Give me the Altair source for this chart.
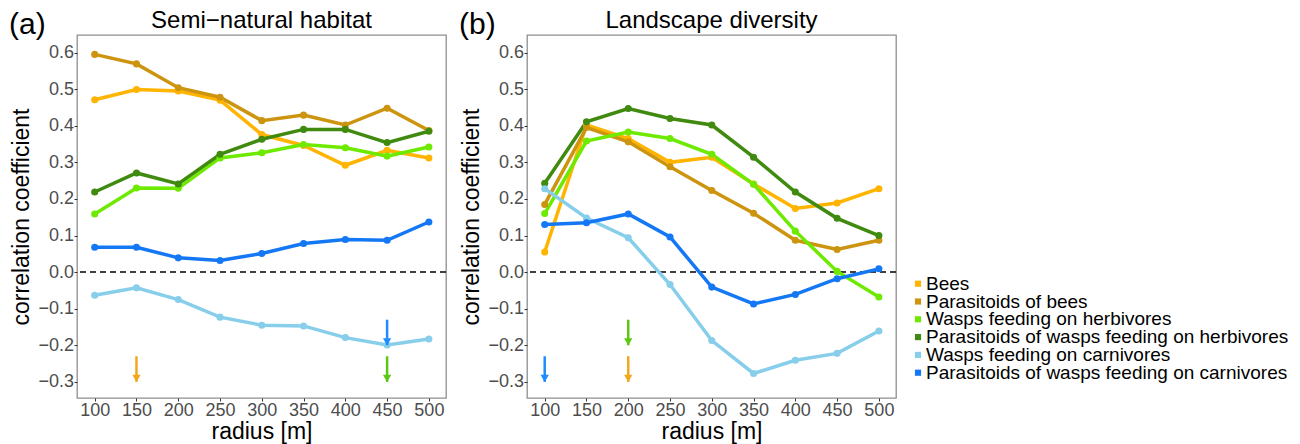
import altair as alt
import pandas as pd

FONT = "Liberation Sans"

radius = [100, 150, 200, 250, 300, 350, 400, 450, 500]

groups = [
    "Bees",
    "Parasitoids of bees",
    "Wasps feeding on herbivores",
    "Parasitoids of wasps feeding on herbivores",
    "Wasps feeding on carnivores",
    "Parasitoids of wasps feeding on carnivores",
]
colors = ["#FFB400", "#CC940F", "#6EEA00", "#3F8A0F", "#87CEEB", "#1478F5"]

# (a) Semi-natural habitat
semi_bees = [0.471, 0.499, 0.495, 0.470, 0.376, 0.346, 0.292, 0.333, 0.312]
semi_par_bees = [0.595, 0.569, 0.504, 0.478, 0.414, 0.429, 0.402, 0.448, 0.387]
semi_wasp_herb = [0.159, 0.230, 0.229, 0.312, 0.326, 0.349, 0.340, 0.317, 0.342]
semi_par_herb = [0.219, 0.271, 0.241, 0.322, 0.363, 0.390, 0.390, 0.354, 0.385]
semi_wasp_carn = [-0.063, -0.043, -0.075, -0.123, -0.145, -0.147, -0.179, -0.199, -0.183]
semi_par_carn = [0.068, 0.068, 0.039, 0.032, 0.051, 0.078, 0.089, 0.087, 0.137]

# (b) Landscape diversity
div_bees = [0.055, 0.402, 0.365, 0.300, 0.314, 0.241, 0.174, 0.189, 0.228]
div_par_bees = [0.185, 0.395, 0.356, 0.288, 0.223, 0.161, 0.087, 0.062, 0.087]
div_wasp_herb = [0.160, 0.358, 0.383, 0.365, 0.322, 0.240, 0.112, 0.002, -0.068]
div_par_herb = [0.243, 0.411, 0.447, 0.420, 0.402, 0.314, 0.219, 0.147, 0.100]
div_wasp_carn = [0.228, 0.148, 0.094, -0.034, -0.187, -0.277, -0.241, -0.222, -0.161]
div_par_carn = [0.130, 0.135, 0.159, 0.096, -0.041, -0.087, -0.061, -0.018, 0.009]

# arrows marking best radius: panel, radius, start, tip, colour
arrow_panel = ["a", "a", "a", "b", "b", "b"]
arrow_radius = [150, 450, 450, 100, 200, 200]
arrow_start = [-0.23, -0.13, -0.23, -0.23, -0.13, -0.23]
arrow_tip = [-0.30, -0.20, -0.30, -0.30, -0.20, -0.30]
arrow_color = ["#F2A81D", "#1E8CFF", "#5DC814", "#1E8CFF", "#5DC814", "#F2A81D"]

y_ticks = [-0.3, -0.2, -0.1, 0.0, 0.1, 0.2, 0.3, 0.4, 0.5, 0.6]


def long_df(series):
    rows = []
    for g, vals in zip(groups, series):
        for r, v in zip(radius, vals):
            rows.append({"radius": r, "r": v, "group": g})
    return pd.DataFrame(rows)


df_a = long_df([semi_bees, semi_par_bees, semi_wasp_herb, semi_par_herb, semi_wasp_carn, semi_par_carn])
df_b = long_df([div_bees, div_par_bees, div_wasp_herb, div_par_herb, div_wasp_carn, div_par_carn])
df_arrows = pd.DataFrame({
    "panel": arrow_panel, "radius": arrow_radius,
    "start": arrow_start, "tip": arrow_tip, "col": arrow_color,
})

W, H = 369, 363
SPACING = 81

xscale = alt.Scale(domain=[78.8, 520.5], nice=False, zero=False)
yscale = alt.Scale(domain=[-0.344, 0.648], nice=False, zero=False)
cscale = alt.Scale(domain=groups, range=colors)

ARROW = "M-1,-1.7L1,-1.7L0,0Z"


def panel(df, title, tag, panel_id):
    x = alt.X("radius:Q", scale=xscale, title="radius [m]",
              axis=alt.Axis(values=radius, format="d"))
    y = alt.Y("r:Q", scale=yscale, title="correlation coefficient",
              axis=alt.Axis(values=y_ticks, format=".1f"))
    base = alt.Chart(df)
    zero = alt.Chart(pd.DataFrame({"z": [0.0]})).mark_rule(
        color="black", strokeWidth=1.5, strokeDash=[6, 4]
    ).encode(y=alt.Y("z:Q", scale=yscale))
    lines = base.mark_line(strokeWidth=3.5).encode(
        x=x, y=y,
        color=alt.Color("group:N", scale=cscale, sort=groups, legend=None),
        detail="group:N",
    )
    pts = base.mark_circle(size=50, opacity=1).encode(
        x=x, y=y,
        color=alt.Color("group:N", scale=cscale, sort=groups, legend=None),
    )
    layers = [zero, lines, pts]
    sub = df_arrows[df_arrows.panel == panel_id]
    for _, row in sub.iterrows():
        one = alt.Chart(pd.DataFrame([row]))
        layers.append(one.mark_rule(strokeWidth=2.5, color=row["col"]).encode(
            x=alt.X("radius:Q", scale=xscale),
            y=alt.Y("start:Q", scale=yscale),
            y2="tip:Q",
        ))
        layers.append(one.mark_point(shape=ARROW, filled=True, size=70, opacity=1,
                                     color=row["col"]).encode(
            x=alt.X("radius:Q", scale=xscale),
            y=alt.Y("tip:Q", scale=yscale),
        ))
    tag_txt = alt.Chart(pd.DataFrame({"t": [tag]})).mark_text(
        font=FONT, fontSize=30, align="left", baseline="alphabetic", color="black"
    ).encode(x=alt.value(-68), y=alt.value(-1), text="t:N")
    title_txt = alt.Chart(pd.DataFrame({"t": [title]})).mark_text(
        font=FONT, fontSize=24, align="center", baseline="alphabetic", color="black"
    ).encode(x=alt.value(W / 2), y=alt.value(-7), text="t:N")
    layers += [tag_txt, title_txt]
    return alt.layer(*layers).properties(width=W, height=H)


pa = panel(df_a, "Semi\u2212natural habitat", "(a)", "a")
pb = panel(df_b, "Landscape diversity", "(b)", "b")

# legend drawn as its own small panel to the right
leg_df = pd.DataFrame({"group": groups})
leg_y = alt.Y("group:N", sort=groups, axis=None,
              scale=alt.Scale(type="point", range=[248.7, 337.7], padding=0))
leg_sym = alt.Chart(leg_df).mark_square(size=38, opacity=1).encode(
    x=alt.value(914 - (892 + SPACING)),
    y=leg_y,
    color=alt.Color("group:N", scale=cscale, sort=groups, legend=None),
)
leg_txt = alt.Chart(leg_df).mark_text(
    font=FONT, fontSize=19, align="left", baseline="middle", color="black"
).encode(
    x=alt.value(922 - (892 + SPACING)),
    y=leg_y,
    text="group:N",
)
legend_panel = alt.layer(leg_sym, leg_txt).properties(
    width=300, height=H, view=alt.ViewBackground(strokeOpacity=0)
)

chart = alt.hconcat(pa, pb, legend_panel, spacing=SPACING, bounds="flush").properties(
    padding=0
).resolve_scale(y="independent").configure_view(
    stroke="#8f8f8f", strokeWidth=1.3
).configure_axis(
    grid=False, domain=False,
    tickColor="#333333", tickSize=3, tickWidth=1,
    labelFont=FONT, labelFontSize=18, labelColor="#4d4d4d", labelPadding=0.5,
    titleFont=FONT, titleFontSize=23, titleColor="black", titleFontWeight="normal",
    titlePadding=1,
).configure_axisY(titlePadding=4)

chart.save("out.html", embed_options={"renderer": "svg", "actions": False})
